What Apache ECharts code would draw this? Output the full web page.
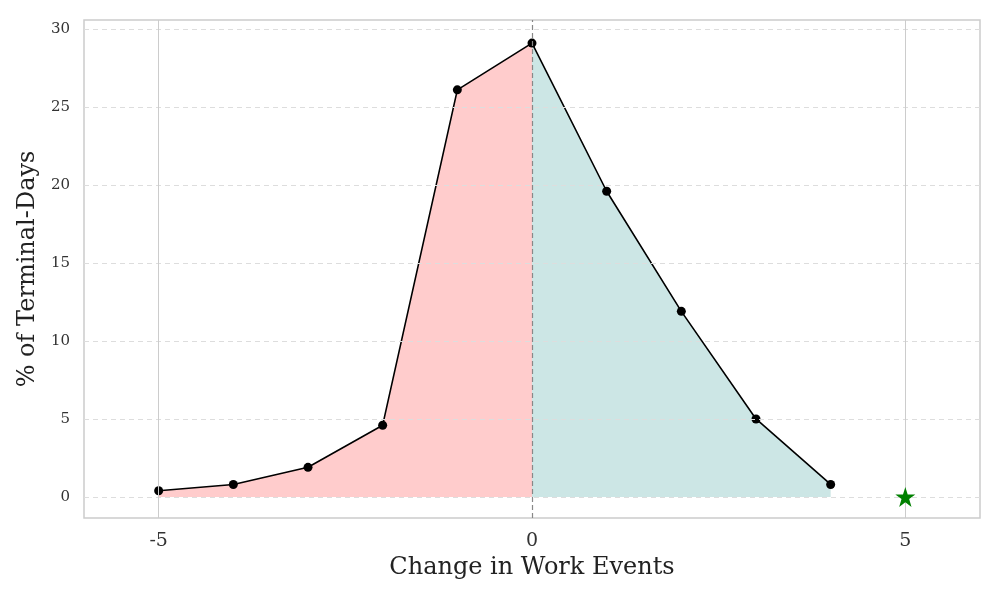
<!DOCTYPE html>
<html>
<head>
<meta charset="utf-8">
<script src="https://cdn.jsdelivr.net/npm/echarts@6/dist/echarts.min.js"></script>
<style>
  html, body { margin: 0; padding: 0; background: #fff; }
  #chart { width: 1000px; height: 600px; }
</style>
</head>
<body>
<div id="chart"></div>
<script>
const changes = [-5, -4, -3, -2, -1, 0, 1, 2, 3, 4]
const pctDays = [0.4, 0.8, 1.9, 4.6, 26.1, 29.1, 19.6, 11.9, 5.0, 0.8]
const starPoint = [5, 0]
const xTicks = [-5, 0, 5]
const yTicks = [0, 5, 10, 15, 20, 25, 30]

const font = 'DejaVu Serif'
const pts = changes.map((x, i) => [x, pctDays[i]])
const lossPts = pts.filter(p => p[0] <= 0)
const gainPts = pts.filter(p => p[0] >= 0)

const chart = echarts.init(document.getElementById('chart'))

const gridLinesY = yTicks.map(v => ({
  yAxis: v,
  lineStyle: { color: '#dddddd', type: [5, 4], width: 1 }
}))
const gridLinesX = xTicks.filter(v => v !== 0).map(v => ({
  xAxis: v,
  lineStyle: { color: '#cccccc', type: 'solid', width: 1 }
}))

chart.setOption({
  animation: false,
  grid: {
    left: 84, right: 20, top: 20, bottom: 82,
    show: true, borderColor: '#cccccc', borderWidth: 1.5
  },
  xAxis: {
    type: 'value', min: -6, max: 6,
    name: 'Change in Work Events', nameLocation: 'middle', nameGap: 38,
    nameTextStyle: { fontFamily: font, fontSize: 24, color: '#222' },
    axisLine: { show: false },
    axisTick: { show: false },
    splitLine: { show: false },
    axisLabel: {
      customValues: xTicks, fontFamily: font, fontSize: 19, color: '#333', margin: 14
    }
  },
  yAxis: {
    type: 'value', min: -1.35, max: 30.58,
    name: '% of Terminal-Days', nameLocation: 'middle', nameGap: 42,
    nameTextStyle: { fontFamily: font, fontSize: 24, color: '#222' },
    axisLine: { show: false },
    axisTick: { show: false },
    splitLine: { show: false },
    axisLabel: {
      customValues: yTicks, fontFamily: font, fontSize: 15, color: '#333', margin: 14,
      padding: [3, 0, 0, 0]
    }
  },
  series: [
    {
      type: 'line', data: [], silent: true,
      markLine: {
        symbol: 'none', silent: true, label: { show: false },
        data: gridLinesY.concat(gridLinesX)
      }
    },
    {
      type: 'line', data: lossPts, showSymbol: false, z: 2,
      lineStyle: { opacity: 0 },
      areaStyle: { color: '#ffcccc', opacity: 1, origin: 0 }
    },
    {
      type: 'line', data: gainPts, showSymbol: false, z: 2,
      lineStyle: { opacity: 0 },
      areaStyle: { color: '#cce6e5', opacity: 1, origin: 0 }
    },
    {
      type: 'line', data: [], z: 3,
      markLine: {
        symbol: 'none', silent: true, label: { show: false },
        data: [{ xAxis: 0, lineStyle: { color: '#888888', type: [5, 3], width: 1.2 } }]
      }
    },
    {
      type: 'line', data: pts, z: 4,
      symbol: 'circle', symbolSize: 9,
      itemStyle: { color: '#000' },
      lineStyle: { color: '#000', width: 1.6 }
    },
    {
      type: 'scatter', data: [starPoint], z: 5,
      symbol: 'path://M50,0 L61.8,35.4 L100,35.4 L69.1,57.3 L80.9,95.1 L50,72.4 L19.1,95.1 L30.9,57.3 L0,35.4 L38.2,35.4 Z',
      symbolSize: 20,
      itemStyle: { color: '#008000', opacity: 1 }
    }
  ]
})
</script>
</body>
</html>
